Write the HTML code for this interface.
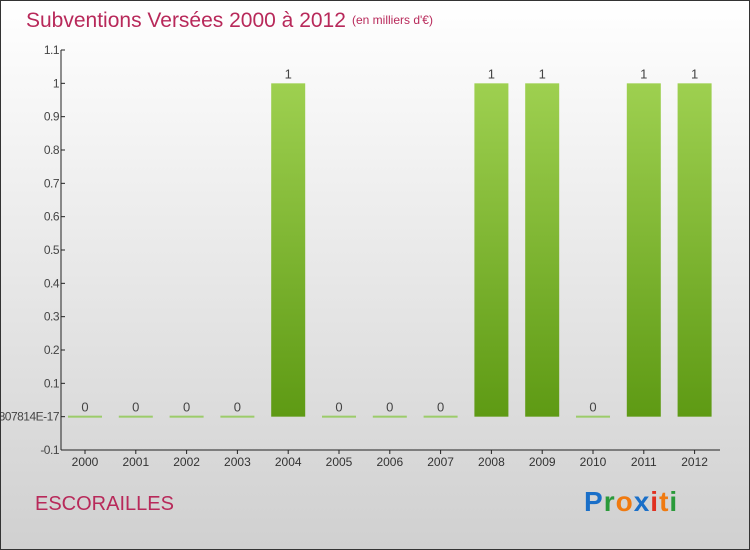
<!DOCTYPE html>
<html><head><meta charset="utf-8"><style>
body{margin:0;}
#wrap{position:relative;width:748px;height:548px;border:1px solid #333;background:linear-gradient(#ffffff,#d0d0d0);font-family:"Liberation Sans",sans-serif;overflow:hidden}
.t{position:absolute;white-space:nowrap}
</style></head><body>
<div id="wrap">
<div class="t" style="left:25px;top:8px;font-size:21px;color:#b8295a">Subventions Versées 2000 à 2012</div>
<div class="t" style="left:351px;top:12px;font-size:12px;color:#b8295a">(en milliers d'€)</div>
<div class="t" style="left:34px;top:492px;font-size:20px;color:#b8295a">ESCORAILLES</div>
<div class="t" style="left:583px;top:485px;font-size:28px;font-weight:bold;letter-spacing:1px"><span style="color:#1a6fc8">P</span><span style="color:#2a9a3a">r</span><span style="color:#f07a10">o</span><span style="color:#1a6fc8">x</span><span style="color:#e03020">i</span><span style="color:#f07a10">t</span><span style="color:#2a9a3a">i</span></div>
<svg id="chart" width="750" height="550" style="position:absolute;left:-1px;top:-1px">
<defs><linearGradient id="g" x1="0" y1="0" x2="0" y2="1"><stop offset="0" stop-color="#9ed050"/><stop offset="1" stop-color="#5e9a14"/></linearGradient></defs>
</svg>
</div>
<script>
const categories=["2000","2001","2002","2003","2004","2005","2006","2007","2008","2009","2010","2011","2012"];
const values=[0,0,0,0,1,0,0,0,1,1,0,1,1];
const tickValues=[-0.1,0,0.1,0.2,0.3,0.4,0.5,0.6,0.7,0.8,0.9,1,1.1];
const tickLabels=["-0.1","-1.3877787807814E-17","0.1","0.2","0.3","0.4","0.5","0.6","0.7","0.8","0.9","1","1.1"];
const svg=document.getElementById('chart');const NS="http://www.w3.org/2000/svg";
const x0=61,yTop=50,yBot=450,vMin=-0.1,vMax=1.1;
const y=v=>yBot-(v-vMin)/(vMax-vMin)*(yBot-yTop);
const step=50.8,xc=i=>85+i*step,bw=34;
function mk(t,a){const e=document.createElementNS(NS,t);for(const k in a)e.setAttribute(k,a[k]);svg.appendChild(e);return e;}
let ax=mk('line',{x1:x0,y1:yTop,x2:x0,y2:yBot,stroke:'#222'});


let bx=mk('line',{x1:x0,y1:yBot,x2:720,y2:yBot,stroke:'#222'});


tickValues.forEach((v,i)=>{const yy=y(v);
mk('line',{x1:x0,y1:yy,x2:x0+4,y2:yy,stroke:'#222'});
const t=mk('text',{x:x0-2,y:yy+4,'font-size':12,fill:'#444','text-anchor':'end','letter-spacing':'-0.5'});t.textContent=tickLabels[i];

});
categories.forEach((c,i)=>{const cx=xc(i);
mk('line',{x1:cx,y1:yBot,x2:cx,y2:yBot+4,stroke:'#222'});
const t=mk('text',{x:cx,y:466,'font-size':12,fill:'#333','text-anchor':'middle'});t.textContent=c;


const v=values[i];let b;
if(v===0){b=mk('rect',{x:cx-bw/2,y:y(0)-1,width:bw,height:2,fill:'#9ccc6a'});}
else{b=mk('rect',{x:cx-bw/2,y:y(v),width:bw,height:y(0)-y(v),fill:'url(#g)'});}


const l=mk('text',{x:cx,y:(v===0?y(0):y(v))-5,'font-size':13,fill:'#444','text-anchor':'middle'});l.textContent=v;

});
</script>
</body></html>
